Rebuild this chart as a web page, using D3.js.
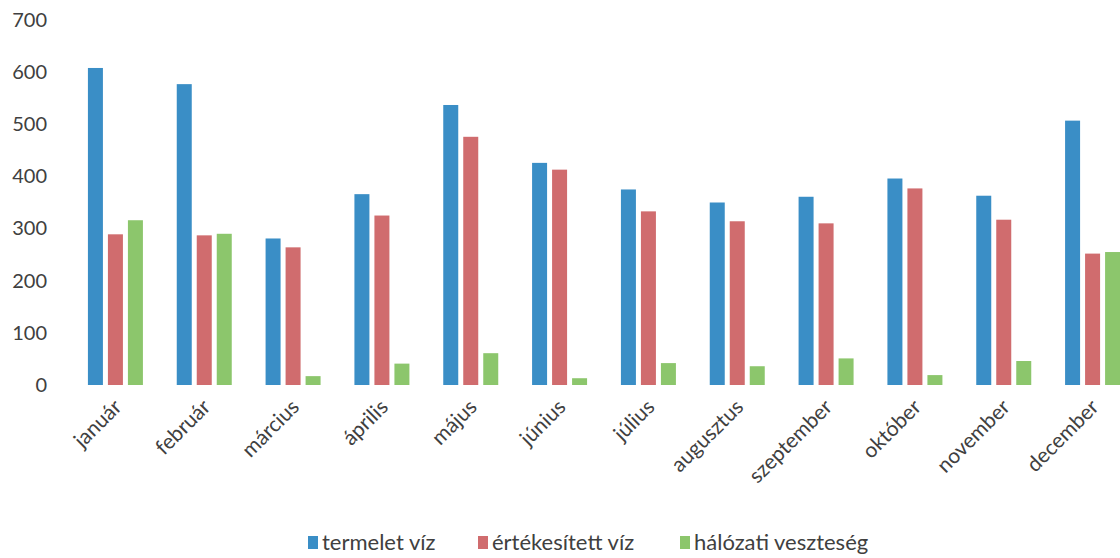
<!DOCTYPE html>
<html><head><meta charset="utf-8">
<script src="https://cdn.jsdelivr.net/npm/d3@7"></script>
<style>body{margin:0;background:#fff}svg{display:block}</style>
</head><body>
<svg id="c" width="1120" height="558"></svg>
<script>
const months = ["január","február","március","április","május","június","július","augusztus","szeptember","október","november","december"];
const termelet = [608,577,281,366,537,426,375,350,361,396,363,507];
const ertekesitett = [289,287,264,325,476,413,333,314,310,377,317,252];
const halozati = [316,290,17,41,61,13,42,36,51,19,46,255];
const seriesNames = ["termelet víz","értékesített víz","hálózati veszteség"];
const colors = ["#3a8ec6","#d06c6e","#8cc66c"];
const yTicks = [0,100,200,300,400,500,600,700];

const svg = d3.select("#c");
const font = "Lato, 'Open Sans', sans-serif";
const x = d3.scaleBand().domain(months).range([71,1137]).padding(0);
const y = d3.scaleLinear().domain([0,700]).range([385,20]);
const seriesData = [termelet, ertekesitett, halozati];
const xs = d3.scaleBand().domain([0,1,2]).range([0,55]).paddingInner(0.25);

const g = svg.append("g");
seriesData.forEach((vals,si)=>{
  g.selectAll(".b"+si).data(months).enter().append("rect")
    .attr("x", m => x(m) + (x.bandwidth()-55)/2 + xs(si))
    .attr("width", xs.bandwidth())
    .attr("y", (m,i) => y(vals[i]))
    .attr("height", (m,i) => y(0)-y(vals[i]))
    .attr("fill", colors[si]);
});

const ya = d3.axisLeft(y).tickValues(yTicks).tickSize(0).tickPadding(0);
const yg = svg.append("g").attr("transform","translate(47,0)").call(ya);
yg.select(".domain").remove();
yg.selectAll("text").attr("font-family",font).attr("font-size",20).attr("fill","#404040");

const xa = d3.axisBottom(x).tickSize(0).tickPadding(0);
const xg = svg.append("g").attr("transform","translate(0,398)").call(xa);
xg.select(".domain").remove();
xg.selectAll("text")
  .attr("font-family",font).attr("font-size",21).attr("fill","#404040")
  .attr("text-anchor","end").attr("dy","0.7em")
  .attr("transform","translate(-3,0) rotate(-45)");

const legX = [308,478,680];
const lg = svg.append("g").attr("transform","translate(0,542)");
seriesNames.forEach((n,i)=>{
  lg.append("rect").attr("x",legX[i]).attr("y",-6).attr("width",10).attr("height",13).attr("fill",colors[i]);
  lg.append("text").attr("x",legX[i]+14).attr("y",0).attr("dy","0.35em")
    .attr("font-family",font).attr("font-size",22).attr("fill","#404040").text(n);
});
</script>
</body></html>
